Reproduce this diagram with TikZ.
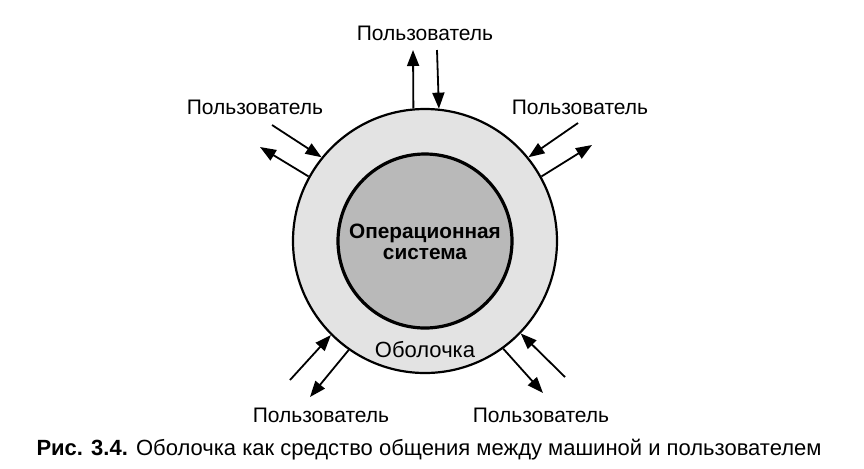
\documentclass[tikz,border=0pt]{standalone}
\usepackage{fontspec}
\setmainfont{Liberation Sans}
\usetikzlibrary{arrows.meta}

\begin{document}
\begin{tikzpicture}[x=0.5pt,y=-0.5pt,
  user/.style={font=\fontsize{10.5}{12}\selectfont},
  flow/.style={line width=0.9pt,-{Triangle[length=8pt,width=6pt]}}]
  \useasboundingbox (0,0) rectangle (864,468);

  \node[circle,draw,line width=1.1pt,fill=gray!22,minimum size=132pt,inner sep=0pt] (shell) at (425,241) {};
  \node[circle,draw,line width=1.6pt,fill=gray!55,minimum size=87pt,inner sep=0pt] (os) at (425,241) {};
  \node[font=\bfseries\fontsize{10.4}{10.5}\selectfont,align=center] (oslabel) at (425,242) {Операционная\\система};
  \node[font=\fontsize{11}{13}\selectfont] (shelllabel) at (425,350) {Оболочка};

  %% Users
  \node[user] (utop) at (425,33) {Пользователь};
  \node[user] (uul) at (255,107) {Пользователь};
  \node[user] (uur) at (580,107) {Пользователь};
  \node[user] (ull) at (321,415) {Пользователь};
  \node[user] (ulr) at (541,415) {Пользователь};

  \coordinate (tout) at (413,50);
  \coordinate (tin) at (437,50);
  \draw[flow] (shell.95.2) -- (tout);
  \draw[flow] (tin) -- (shell.84.8);

  \coordinate (ulin) at (272,125);
  \coordinate (ulout) at (260,147);
  \draw[flow] (ulin) -- (shell.141);
  \draw[flow] (shell.151) -- (ulout);

  \coordinate (urin) at (578,123);
  \coordinate (urout) at (592,145);
  \draw[flow] (urin) -- (shell.39.5);
  \draw[flow] (shell.29) -- (urout);

  \coordinate (llin) at (290,380);
  \coordinate (llout) at (310,397);
  \draw[flow] (llin) -- (shell.225.6);
  \draw[flow] (shell.235.5) -- (llout);

  \coordinate (lrin) at (565,377);
  \coordinate (lrout) at (543,393);
  \draw[flow] (lrin) -- (shell.316.8);
  \draw[flow] (shell.306.8) -- (lrout);

  %% Caption
  \node[font=\fontsize{11}{13}\selectfont] (caption) at (429,450) {\textbf{Рис. 3.4.} Оболочка как средство общения между машиной и пользователем};
\end{tikzpicture}
\end{document}
